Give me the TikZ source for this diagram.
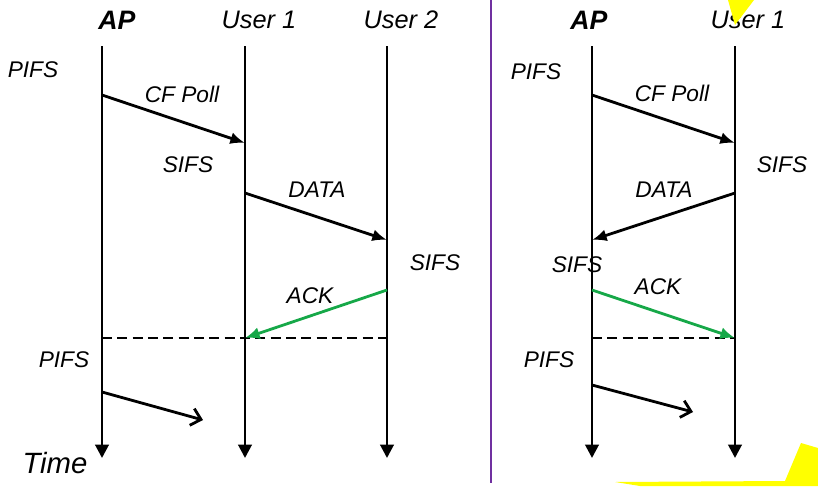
\documentclass[tikz,border=0pt]{standalone}
\usepackage{fontspec}
\setmainfont{Liberation Sans}
\usetikzlibrary{arrows.meta}
\definecolor{ackgreen}{RGB}{22,168,72}
\definecolor{splitpurple}{RGB}{112,48,160}
\definecolor{markyellow}{RGB}{255,255,0}

\begin{document}
\begin{tikzpicture}[x=0.75pt, y=-0.75pt, line width=2.1pt,
    lbl/.style={font=\fontsize{17}{20}\selectfont\itshape, inner sep=0pt},
    who/.style={font=\fontsize{19}{22}\selectfont\itshape, inner sep=0pt},
    life/.style={-{Triangle[length=10pt,width=10pt]}},
    msg/.style={-{Latex[length=11pt,width=9pt]}},
    next/.style={-{Straight Barb[length=7pt,width=13pt]}},
    slot/.style={line width=0.9pt, dash pattern=on 7.5pt off 4pt}]
    \useasboundingbox (0,0) rectangle (818,486);

    % lifelines
    \foreach \n/\x in {lap/102, lua/245, lub/387, rap/592, rua/735} {
      \coordinate (\n-top) at (\x,46);
      \coordinate (\n-end) at (\x,458);
      \draw[life] (\n-top) -- (\n-end);
    }
    \draw[splitpurple, line width=1.4pt] (491,0) -- (491,483);

    % heads
    \node[who, font=\fontsize{20}{22}\selectfont\bfseries\itshape] (lap-name) at (117,20) {AP};
    \node[who] (lua-name) at (259,20) {User 1};
    \node[who] (lub-name) at (401,20) {User 2};
    \node[who, font=\fontsize{20}{22}\selectfont\bfseries\itshape] (rap-name) at (589,20) {AP};
    \node[who] (rua-name) at (748,20) {User 1};

    % left: AP, User 1, User 2
    \coordinate (lcf-a) at (102,95);  \coordinate (lcf-b) at (245,143);
    \coordinate (ldt-a) at (245,193); \coordinate (ldt-b) at (387,240);
    \coordinate (lak-a) at (387,290); \coordinate (lak-b) at (245,338);
    \coordinate (lsl-a) at (102,338); \coordinate (lsl-b) at (387,338);
    \coordinate (lnx-a) at (102,392); \coordinate (lnx-b) at (203,420);
    \draw[msg] (lcf-a) -- (lcf-b);
    \draw[msg] (ldt-a) -- (ldt-b);
    \draw[slot] (lsl-a) -- (lsl-b);
    \draw[msg, ackgreen] (lak-a) -- (lak-b);
    \draw[next] (lnx-a) -- (lnx-b);
    \node[lbl] (lpifs1) at (33,70) {PIFS};
    \node[lbl] (lcf) at (182,94) {CF Poll};
    \node[lbl] (lsifs1) at (188,165) {SIFS};
    \node[lbl] (ldata) at (317,190) {DATA};
    \node[lbl] (lsifs2) at (435,263) {SIFS};
    \node[lbl] (lack) at (310,296) {ACK};
    \node[lbl] (lpifs2) at (64,360) {PIFS};
    \node[lbl, font=\fontsize{22}{24}\selectfont\itshape] (time) at (55,463) {Time};

    % right: AP, User 1
    \coordinate (rcf-a) at (592,95);  \coordinate (rcf-b) at (735,143);
    \coordinate (rdt-a) at (735,193); \coordinate (rdt-b) at (592,240);
    \coordinate (rak-a) at (592,290); \coordinate (rak-b) at (735,338);
    \coordinate (rsl-a) at (592,338); \coordinate (rsl-b) at (735,338);
    \coordinate (rnx-a) at (592,385); \coordinate (rnx-b) at (693,412);
    \draw[msg] (rcf-a) -- (rcf-b);
    \draw[msg] (rdt-a) -- (rdt-b);
    \draw[slot] (rsl-a) -- (rsl-b);
    \draw[msg, ackgreen] (rak-a) -- (rak-b);
    \draw[next] (rnx-a) -- (rnx-b);
    \node[lbl] (rpifs1) at (536,72) {PIFS};
    \node[lbl] (rcf) at (672,93) {CF Poll};
    \node[lbl] (rsifs1) at (782,165) {SIFS};
    \node[lbl] (rdata) at (664,190) {DATA};
    \node[lbl] (rsifs2) at (577,265) {SIFS};
    \node[lbl] (rack) at (658,287) {ACK};
    \node[lbl] (rpifs2) at (549,360) {PIFS};

    % yellow marks
    \fill[markyellow] (728,0) -- (754,0) -- (735,25) -- cycle;
    \fill[markyellow] (615,482) -- (785,481) -- (801,443) -- (818,448)
      -- (818,486) -- (640,486) -- cycle;
  \end{tikzpicture}
\end{document}
